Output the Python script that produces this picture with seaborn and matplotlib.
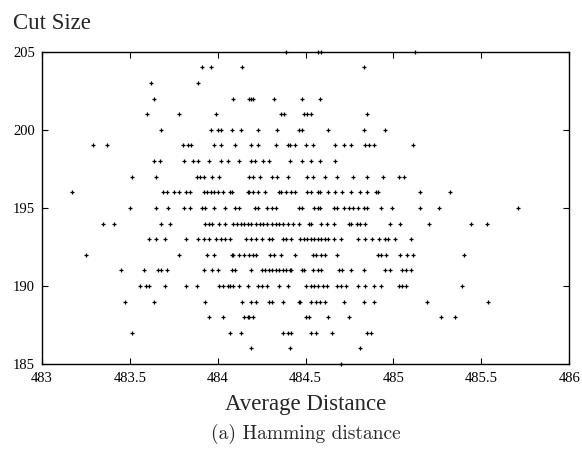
import numpy as np
import pandas as pd
import seaborn as sns
import matplotlib.pyplot as plt

# average distance values, one list per cut size
rows = {
    205: [484.39, 484.57, 484.59, 485.12],
    204: [483.91, 483.96, 484.14, 484.83],
    203: [483.62, 483.89],
    202: [483.64, 484.09, 484.18, 484.19, 484.20, 484.32, 484.48, 484.58],
    201: [483.60, 483.78, 483.99, 484.36, 484.38, 484.49, 484.51, 484.53, 484.85],
    200: [483.68, 483.96, 484.00, 484.02, 484.08, 484.13, 484.23, 484.34, 484.46,
          484.48, 484.63, 484.83, 484.95],
    199: [483.29, 483.37, 483.80, 483.83, 483.85, 483.98, 484.02, 484.10, 484.19,
          484.23, 484.33, 484.40, 484.41, 484.44, 484.50, 484.54, 484.67, 484.72,
          484.76, 484.84, 484.86, 484.89, 485.11],
    198: [483.64, 483.67, 483.81, 483.86, 483.89, 483.95, 484.02, 484.06, 484.12,
          484.19, 484.21, 484.26, 484.29, 484.41, 484.48, 484.53, 484.58, 484.67],
    197: [483.51, 483.65, 483.88, 483.90, 483.92, 483.97, 484.01, 484.18, 484.20,
          484.24, 484.31, 484.34, 484.40, 484.51, 484.54, 484.61, 484.68, 484.77,
          484.85, 484.94, 485.03, 485.06],
    196: [483.17, 483.69, 483.71, 483.75, 483.78, 483.82, 483.84, 483.92, 483.94,
          483.96, 483.98, 484.00, 484.03, 484.07, 484.08, 484.17, 484.18, 484.20,
          484.23, 484.27, 484.35, 484.36, 484.39, 484.42, 484.44, 484.51, 484.53,
          484.57, 484.58, 484.63, 484.67, 484.71, 484.76, 484.81, 484.85, 484.90,
          484.91, 485.15, 485.32],
    195: [483.50, 483.65, 483.72, 483.81, 483.84, 483.91, 483.93, 483.98, 484.04,
          484.10, 484.12, 484.21, 484.23, 484.28, 484.31, 484.33, 484.46, 484.48,
          484.55, 484.57, 484.58, 484.66, 484.68, 484.72, 484.75, 484.77, 484.80,
          484.83, 484.85, 484.93, 484.99, 485.15, 485.26, 485.71],
    194: [483.35, 483.41, 483.68, 483.73, 483.93, 483.95, 483.97, 484.01, 484.04,
          484.09, 484.11, 484.13, 484.15, 484.17, 484.19, 484.22, 484.24, 484.26,
          484.28, 484.31, 484.33, 484.35, 484.37, 484.40, 484.43, 484.46, 484.52,
          484.53, 484.59, 484.62, 484.66, 484.75, 484.76, 484.79, 484.81, 484.84,
          484.98, 485.04, 485.20, 485.44, 485.53],
    193: [483.61, 483.65, 483.70, 483.82, 483.89, 483.92, 483.95, 483.99, 484.02,
          484.04, 484.07, 484.16, 484.19, 484.22, 484.25, 484.29, 484.31, 484.37,
          484.39, 484.42, 484.47, 484.49, 484.51, 484.53, 484.55, 484.57, 484.59,
          484.61, 484.63, 484.66, 484.70, 484.80, 484.84, 484.88, 484.92, 484.95,
          484.97, 485.01, 485.10],
    192: [483.25, 483.78, 483.94, 483.98, 484.08, 484.09, 484.12, 484.15, 484.18,
          484.20, 484.22, 484.30, 484.32, 484.36, 484.44, 484.54, 484.56, 484.59,
          484.61, 484.68, 484.91, 484.93, 484.96, 485.04, 485.08, 485.11, 485.40],
    191: [483.45, 483.58, 483.66, 483.68, 483.71, 483.92, 483.97, 484.00, 484.08,
          484.10, 484.19, 484.25, 484.27, 484.29, 484.31, 484.33, 484.35, 484.37,
          484.39, 484.41, 484.42, 484.48, 484.49, 484.54, 484.57, 484.59, 484.69,
          484.71, 484.76, 484.83, 484.95, 484.98, 485.05, 485.07, 485.10],
    190: [483.56, 483.59, 483.61, 483.70, 483.82, 483.88, 484.01, 484.03, 484.06,
          484.07, 484.09, 484.12, 484.17, 484.23, 484.25, 484.28, 484.35, 484.40,
          484.50, 484.53, 484.55, 484.57, 484.60, 484.62, 484.68, 484.70, 484.73,
          484.80, 484.84, 484.89, 484.93, 485.03, 485.05, 485.07, 485.39],
    189: [483.47, 483.64, 483.93, 484.14, 484.19, 484.22, 484.29, 484.31, 484.37,
          484.46, 484.47, 484.53, 484.56, 484.58, 484.61, 484.72, 484.83, 484.89,
          485.19, 485.54],
    188: [483.95, 484.03, 484.15, 484.17, 484.18, 484.20, 484.50, 484.52, 484.63,
          484.75, 485.27, 485.35],
    187: [483.51, 484.07, 484.13, 484.37, 484.40, 484.42, 484.53, 484.56, 484.65,
          484.85, 484.87],
    186: [484.19, 484.41, 484.81],
    185: [484.70],
}

x_ticks = [483, 483.5, 484, 484.5, 485, 485.5, 486]
x_labels = ["483", "483.5", "484", "484.5", "485", "485.5", "486"]
y_ticks = [185, 190, 195, 200, 205]

d = pd.DataFrame(
    [(x, cut) for cut, xs in rows.items() for x in xs],
    columns=["avg_dist", "cut_size"],
)

sns.set_style("ticks")
plt.rcParams["font.family"] = ["Liberation Serif", "DejaVu Serif"]

fig = plt.figure(figsize=(5.82, 4.51), dpi=100)
ax = fig.add_axes([0.072, 0.193, 0.906, 0.692])

sns.scatterplot(
    data=d, x="avg_dist", y="cut_size", marker="+", color="black",
    s=10, linewidth=0.9, legend=False, ax=ax, clip_on=False,
)

ax.set_xlim(483, 486)
ax.set_ylim(185, 205)
ax.set_xticks(x_ticks)
ax.set_xticklabels(x_labels)
ax.set_yticks(y_ticks)
ax.tick_params(direction="in", length=4.5, width=0.8, labelsize=10.5,
               top=True, right=True, colors="black")
ax.tick_params(axis="x", pad=6)
ax.tick_params(axis="y", pad=5)
for s in ax.spines.values():
    s.set_linewidth(1.0)
    s.set_color("black")

ax.set_xlabel("Average Distance", fontsize=16.5, labelpad=6)
ax.set_ylabel("")
fig.text(0.022, 0.936, "Cut Size", fontsize=16.5, va="baseline", ha="left")
fig.text(0.526, 0.038, "(a) Hamming distance", fontsize=14,
         ha="center", va="center", family="cmr10")

fig.savefig("out.png", dpi=100)
